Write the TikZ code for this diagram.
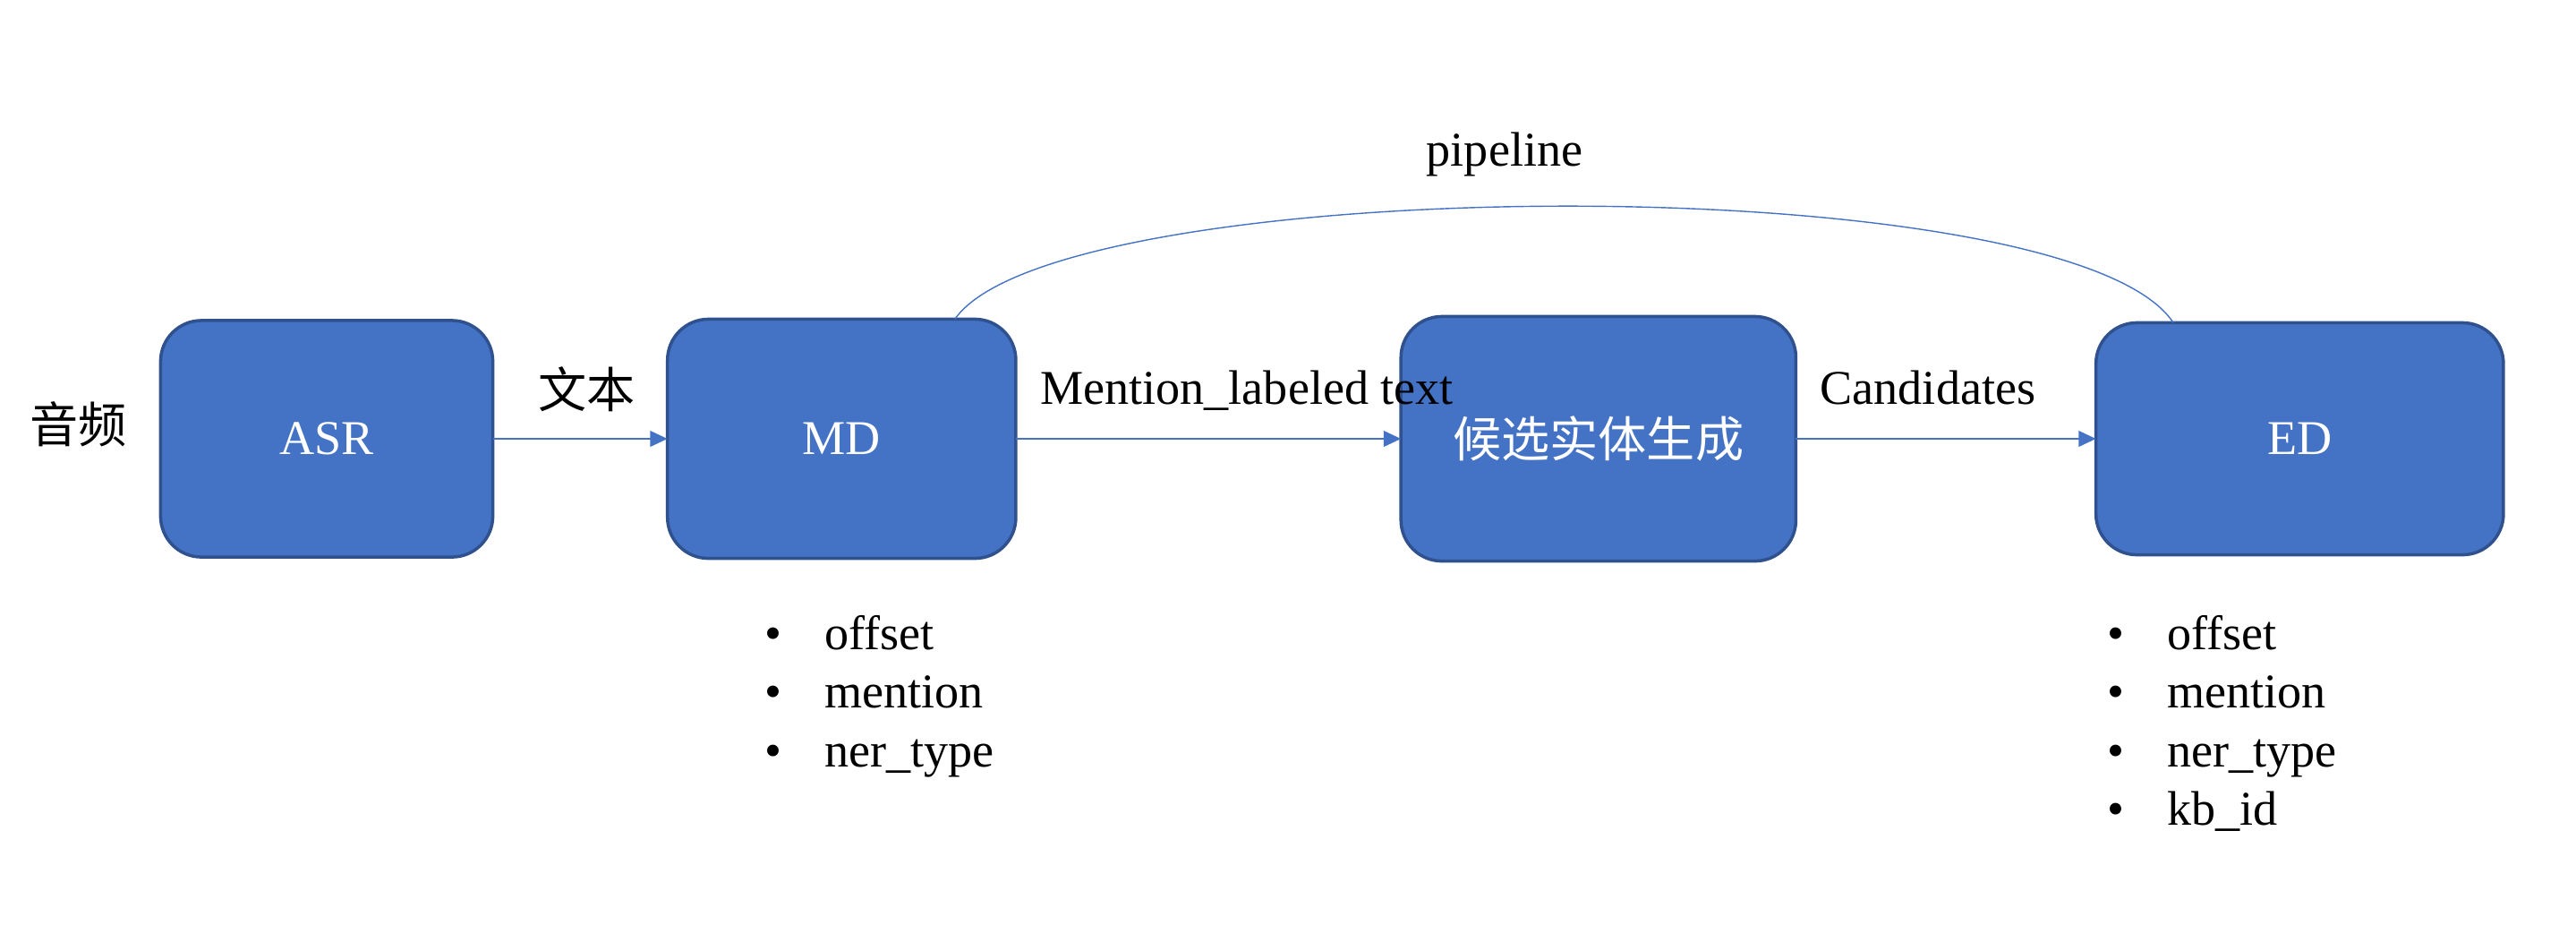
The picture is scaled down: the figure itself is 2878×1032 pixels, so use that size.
\documentclass[tikz,border=0pt]{standalone}
\usepackage{fontspec}
\setmainfont{Liberation Serif}
\newfontfamily\zh{Noto Sans CJK SC}
\usetikzlibrary{positioning,arrows.meta,calc}
\definecolor{pptblue}{HTML}{4472C4}
\definecolor{pptedge}{HTML}{2F528F}
\definecolor{ink}{HTML}{000000}
\tikzset{
  blk/.style={draw=pptedge, line width=1pt, rounded corners=13pt, fill=pptblue,
    align=flush center, inner sep=0pt, outer sep=0pt, text=white},
  arr/.style={-{Triangle[length=5.5pt,width=5pt]}, line width=0.65pt, color=pptblue},
  arcline/.style={line width=0.4pt, color=pptblue},
  lab/.style={text=ink, inner sep=2pt, text depth=3pt},
  lst/.style={text=ink, align=left, inner sep=0pt, anchor=north west},   % 要素リスト
}
\newcommand{\bul}[1]{\makebox[19pt][l]{\textbullet}#1}

\begin{document}
\begin{tikzpicture}[x=0.01cm, y=-0.01cm, font=\fontsize{15.4pt}{18.6pt}\selectfont]
    \useasboundingbox (0,0) rectangle (2878,1032);
    \node[blk, minimum width=3.71cm, minimum height=2.64cm] (asr) at (365,490) {ASR};
    \node[blk, minimum width=3.89cm, minimum height=2.67cm, right=1.95cm of asr] (md) {MD};
    \node[blk, minimum width=4.41cm, minimum height=2.73cm, right=4.30cm of md] (cand) {\zh 候选实体生成};
    \node[blk, minimum width=4.55cm, minimum height=2.59cm, right=3.35cm of cand] (ed) {ED};

    \node[lab, left=0.3cm of asr, yshift=0.13cm] (audio) {\zh 音频};
    \draw[arr] (asr) -- node[lab, above=0.16cm, xshift=0.07cm] (txt) {\zh 文本} (md);
    \draw[arr] (md) -- node[lab, above=0.2cm, pos=0.6] (mlt) {Mention\_labeled text} (cand);
    \draw[arr] (cand) -- node[lab, above=0.2cm, pos=0.44] (cands) {Candidates} (ed);

    \coordinate (p0) at ($(md.north)!0.65!(md.north east)$);
    \coordinate (p1) at ($(ed.north)!0.62!(ed.north west)$);
    \draw[arcline] (p0) .. controls ($(p0)+(114,-165)$) and ($(p1)+(-117,-177)$) .. node[lab, pos=0.465, above=0.27cm] (pipe) {pipeline} (p1);

    \node[lst] (mdlist) at ([xshift=1.08cm, yshift=-0.63cm]md.south west)
      {\bul{offset}\\\bul{mention}\\\bul{ner\_type}};
    \node[lst] (edlist) at ([xshift=0.12cm, yshift=-0.67cm]ed.south west)
      {\bul{offset}\\\bul{mention}\\\bul{ner\_type}\\\bul{kb\_id}};
\end{tikzpicture}
\end{document}
